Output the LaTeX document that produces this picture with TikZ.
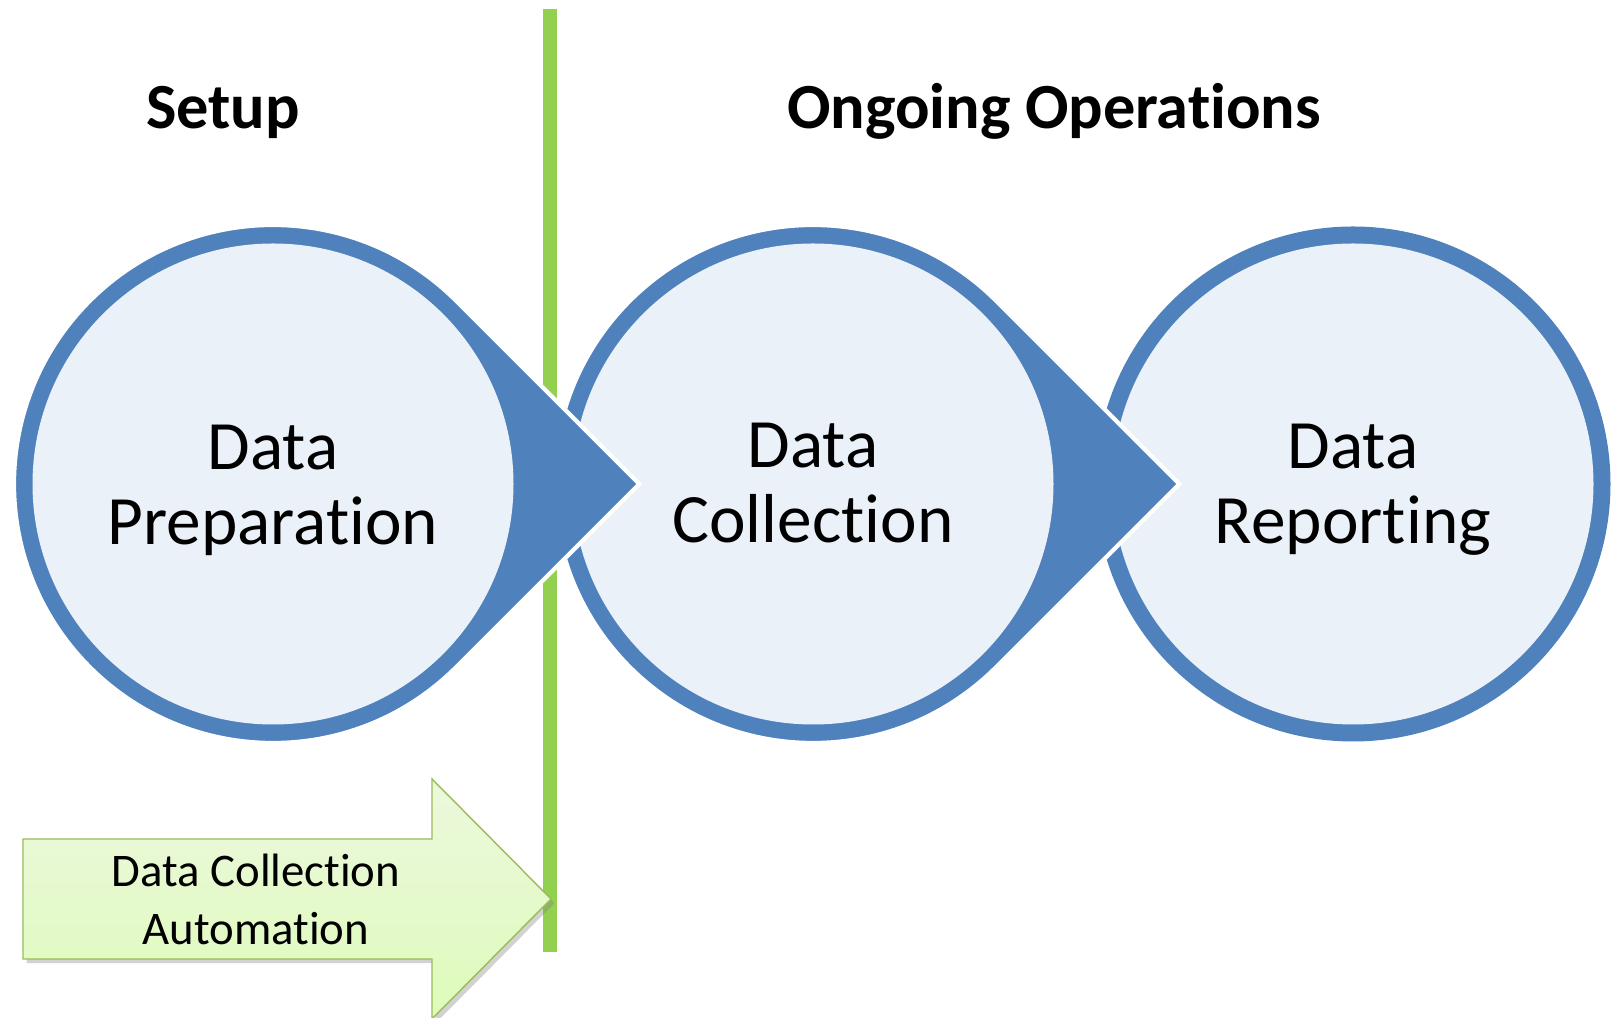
\documentclass[tikz,border=0pt]{standalone}
\usepackage{fontspec}
\setmainfont[Ligatures=NoCommon]{Carlito}
\usepackage{tikz}
\usetikzlibrary{shadows}
\definecolor{ringblue}{RGB}{79,129,189}
\definecolor{corefill}{RGB}{235,241,248}
\definecolor{splitgreen}{RGB}{146,208,80}
\definecolor{arrowline}{RGB}{155,187,89}
\definecolor{arrowtop}{RGB}{236,248,222}
\definecolor{arrowbottom}{RGB}{222,251,186}

\begin{document}
\begin{tikzpicture}[x=0.01cm, y=0.01cm,
ring/.style={fill=ringblue, draw=white, line width=1.2pt},
core/.style={fill=corefill},
steptext/.style={align=center, font=\fontsize{19.7}{21.3}\selectfont},
phasetext/.style={anchor=base, font=\fontsize{18.3}{22}\selectfont\bfseries},
arrowtext/.style={align=center, font=\fontsize{13.3}{16.5}\selectfont},
arrowbox/.style={draw=arrowline, line width=0.4pt, top color=arrowtop, bottom color=arrowbottom,
  drop shadow={shadow xshift=1pt, shadow yshift=-1.2pt, opacity=0.35}}]
\useasboundingbox (0,0) rectangle (1614,1018);
\fill[white] (0,0) rectangle (1614,1018);
\draw[splitgreen, line width=4pt] (550,1009) -- (550,66);

\node[phasetext] (setup) at (223,889) {Setup};
\node[phasetext] (ongoing) at (1054,889) {Ongoing Operations};

\fill[ringblue] (1353,534) circle[radius=257.5];
\fill[core] (1353,534) circle[radius=240.5];
\node[steptext] (report) at (1353,528) {Data\\Reporting};

\draw[ring] (813,534) ++(45:259) arc[start angle=45, end angle=315, radius=259] -- ++(45:259) -- cycle;
\fill[core] (813,534) circle[radius=240.5];
\node[steptext] (collect) at (813,535) {Data\\Collection};

\draw[ring] (273,534) ++(45:259) arc[start angle=45, end angle=315, radius=259] -- ++(45:259) -- cycle;
\fill[core] (273,534) circle[radius=240.5];
\node[steptext] (prep) at (273,528) {Data\\Preparation};

\draw[arrowbox] (23,179) -- (432,179) -- (432,239) -- (551,119) -- (432,-1) -- (432,59) -- (23,59) -- cycle;
\node[arrowtext] (auto) at (256,119) {Data Collection\\Automation};
\end{tikzpicture}
\end{document}
